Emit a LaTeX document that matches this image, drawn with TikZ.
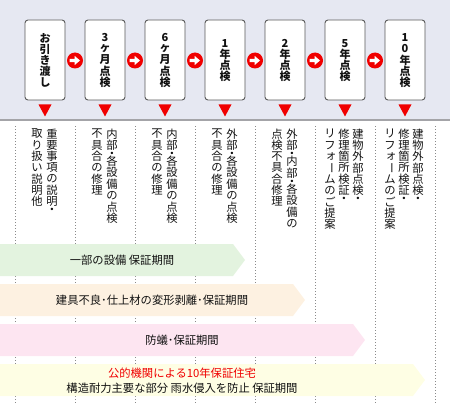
\documentclass[tikz,border=0pt]{standalone}
\usepackage{fontspec}
\newfontfamily\jp{Noto Sans CJK JP}
\usetikzlibrary{calc}
\definecolor{topbg}{HTML}{E6E8F2}
\definecolor{sepline}{HTML}{A4A4A8}
\definecolor{boxline}{HTML}{5A5A5A}
\definecolor{markred}{HTML}{F00000}
\definecolor{dotline}{HTML}{8A8A8A}
\definecolor{bandA}{HTML}{E3F3DF}
\definecolor{bandB}{HTML}{FDF1E1}
\definecolor{bandC}{HTML}{FDE5F1}
\definecolor{bandD}{HTML}{FEFEE4}
\definecolor{txt}{HTML}{111111}
\newcommand\vcell[2]{\hbox to 1.05em{\hss\vbox to #1{\vss\hbox{#2}\vss}\hss}}
\newcommand\vdotmark{\fontsize{2.8}{2.8}\selectfont ●}
\ExplSyntaxOn
\NewDocumentCommand\vt{m}{
  \vbox{\offinterlineskip
    \tl_map_inline:nn {#1}{
      \str_case:nnF {##1}{
        {・}{\vcell{0.45em}{\vdotmark}}
        {ー}{\vcell{1em}{\rotatebox[origin=c]{-90}{ー}}}
        {ォ}{\vcell{1em}{\raisebox{0.12em}{\hspace{0.2em}ォ}}}
      }{\vcell{1em}{##1}}
    }
  }
}
\ExplSyntaxOff
\tikzset{
  stepbox/.style={draw=boxline, line width=0.9pt, fill=white, rounded corners=3pt,
    minimum width=40pt, minimum height=80pt, inner sep=0pt,
    font={\jp\bfseries\fontsize{11}{11}\selectfont}, text=txt},
  circmark/.style={circle, fill=markred, minimum size=16pt, inner sep=0pt},
  coltext/.style={anchor=north, inner sep=0pt, font={\jp\fontsize{11.3}{11.3}\selectfont}, text=txt},
  bandtext/.style={inner sep=0pt, font={\jp\fontsize{11.3}{11.3}\selectfont}, text=txt},
  dotsep/.style={draw=dotline, line width=0.9pt, dash pattern=on 1.4pt off 1.6pt},
}
\begin{document}
\begin{tikzpicture}[x=1pt,y=-1pt]
\useasboundingbox (0,0) rectangle (450,404);
% top band
\fill[topbg] (0,0) rectangle (450,120);
\draw[sepline, line width=1.2pt] (0,120) -- (450,120);
% dotted separators
\foreach \i in {0,...,7}{
  \coordinate (d\i t) at (15+60*\i,126);
  \coordinate (d\i b) at (15+60*\i,404);
  \draw[dotsep] (d\i t) -- (d\i b);
}
% bands
\fill[bandA] (0,244) -- (233,244) -- (245,260) -- (233,276) -- (0,276) -- cycle;
\fill[bandB] (0,284) -- (293,284) -- (305,300) -- (293,316) -- (0,316) -- cycle;
\fill[bandC] (0,324) -- (353,324) -- (365,340) -- (353,356) -- (0,356) -- cycle;
\fill[bandD] (0,364) -- (413,364) -- (425,380) -- (413,396) -- (0,396) -- cycle;
\node[bandtext] (w1) at (122,260) {一部の設備 保証期間};
\node[bandtext] (w2) at (152,300) {建具不良･仕上材の変形剥離･保証期間};
\node[bandtext] (w3) at (182,340) {防蟻･保証期間};
\node[bandtext, text=markred] (w4) at (182,373) {公的機関による10年保証住宅};
\node[bandtext] (w5) at (182,388) {構造耐力主要な部分 雨水侵入を防止 保証期間};
% step boxes
\node[stepbox] (b1) at (45,60) {\vt{お引き渡し}};
\node[stepbox] (b2) at (105,60) {\vt{3ヶ月点検}};
\node[stepbox] (b3) at (165,60) {\vt{6ヶ月点検}};
\node[stepbox] (b4) at (225,60) {\vt{1年点検}};
\node[stepbox] (b5) at (285,60) {\vt{2年点検}};
\node[stepbox] (b6) at (345,60) {\vt{5年点検}};
\node[stepbox] (b7) at (405,60) {\vt{10年点検}};
% circle arrows between boxes
\foreach \a/\b in {1/2,2/3,3/4,4/5,5/6,6/7}{
  \node[circmark] (c\a) at ($(b\a.east)!0.5!(b\b.west)+(0,0.5)$) {};
  \fill[white] (c\a.center) ++(-5.5,-1.7) -- ++(5,0) -- ++(0,-3) -- ++(5.5,4.7)
     -- ++(-5.5,4.7) -- ++(0,-3) -- ++(-5,0) -- cycle;
}
% red triangles
\foreach \i in {1,...,7}{
  \fill[markred] ($(b\i.south)+(-6.5,4)$) -- ++(13,0) -- ++(-6.5,12) -- cycle;
}
% column texts
\node[coltext] (k1a) at (37,128) {\vt{取り扱い説明他}};
\node[coltext] (k1b) at (52,128) {\vt{重要事項の説明・}};
\node[coltext] (k2a) at (97,128) {\vt{不具合の修理}};
\node[coltext] (k2b) at (112,128) {\vt{内部・各設備の点検}};
\node[coltext] (k3a) at (157,128) {\vt{不具合の修理}};
\node[coltext] (k3b) at (172,128) {\vt{内部・各設備の点検}};
\node[coltext] (k4a) at (217,128) {\vt{不具合の修理}};
\node[coltext] (k4b) at (232,128) {\vt{外部・各設備の点検}};
\node[coltext] (k5a) at (277,128) {\vt{点検不具合修理}};
\node[coltext] (k5b) at (292,128) {\vt{外部・内部・各設備の}};
\node[coltext] (k6a) at (330,128) {\vt{リフォームのご提案}};
\node[coltext] (k6b) at (344,128) {\vt{修理箇所検証・}};
\node[coltext] (k6c) at (358,128) {\vt{建物外部点検・}};
\node[coltext] (k7a) at (390,128) {\vt{リフォームのご提案}};
\node[coltext] (k7b) at (404,128) {\vt{修理箇所検証・}};
\node[coltext] (k7c) at (418,128) {\vt{建物外部点検・}};
\end{tikzpicture}
\end{document}
